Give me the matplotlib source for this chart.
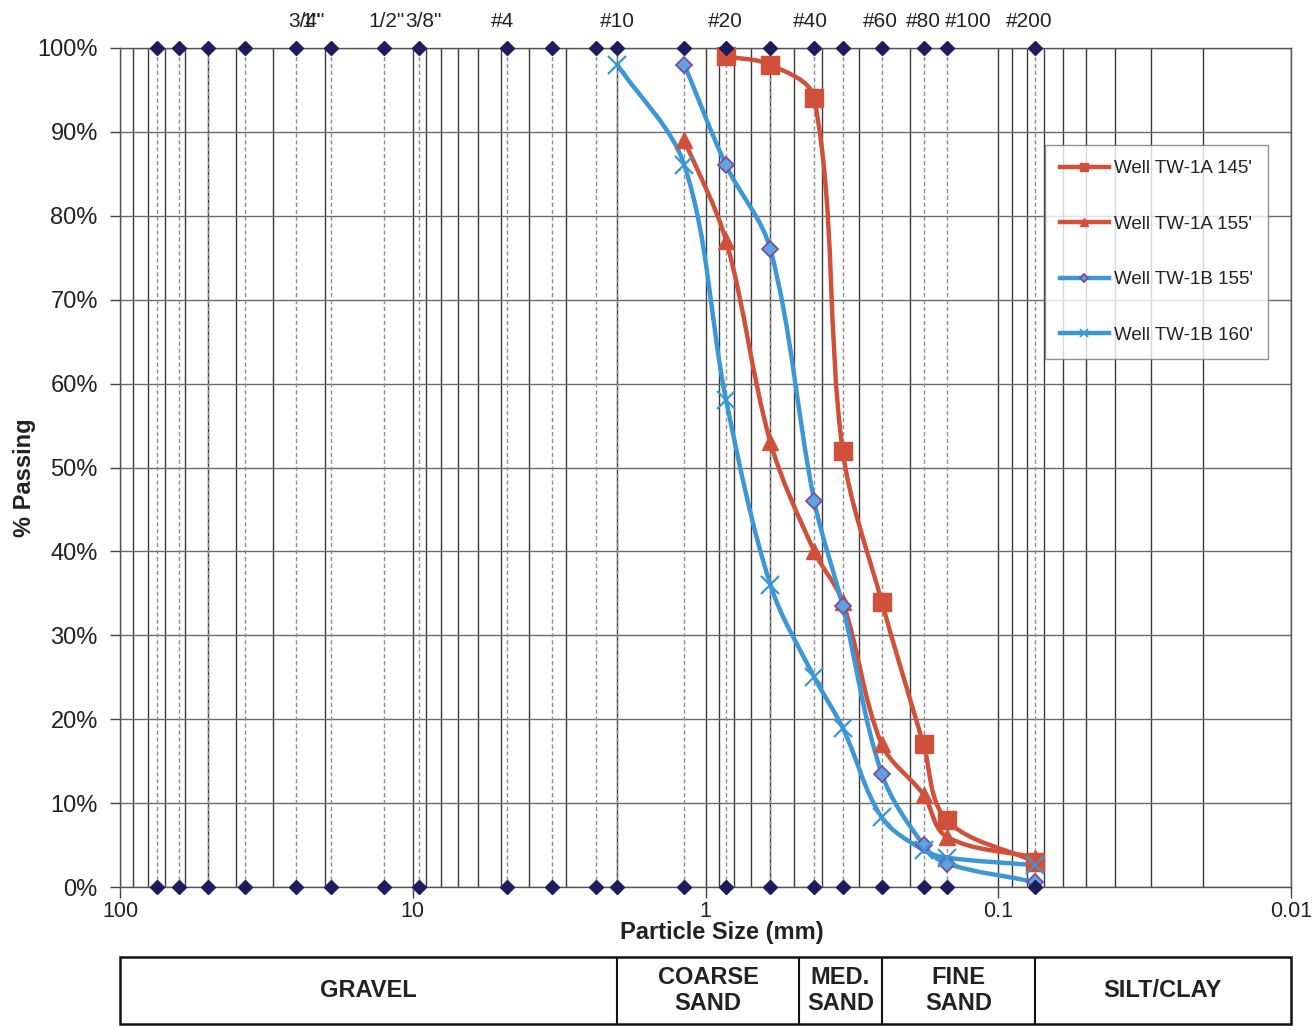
import numpy as np
import matplotlib
matplotlib.use("Agg")
import matplotlib.pyplot as plt
from matplotlib.path import Path
from matplotlib.patches import PathPatch, Rectangle
from matplotlib.lines import Line2D
from matplotlib import font_manager
from matplotlib.ticker import LogLocator, FixedLocator, NullFormatter, FuncFormatter

# ---------------- data ----------------
sieve_sizes = [75, 63, 50, 37.5, 25, 19, 12.5, 9.5, 4.75, 3.35, 2.36, 2.0,
               1.18, 0.85, 0.6, 0.425, 0.34, 0.25, 0.18, 0.15, 0.075]

top_labels = ['3/4"', '1"', '1/2"', '3/8"', '#4', '#10', '#20', '#40', '#60', '#80', '#100', '#200']
top_label_sizes = [19, 25, 12.5, 9.5, 4.75, 2.0, 0.85, 0.425, 0.25, 0.18, 0.15, 0.075]

s1_name = "Well TW-1A 145'"
s1_x = [0.85, 0.6, 0.425, 0.34, 0.25, 0.18, 0.15, 0.075]
s1_y = [99, 98, 94, 52, 34, 17, 8, 3]

s2_name = "Well TW-1A 155'"
s2_x = [1.18, 0.85, 0.6, 0.425, 0.34, 0.25, 0.18, 0.15, 0.075]
s2_y = [89, 77, 53, 40, 34, 17, 11, 6, 3.5]

s3_name = "Well TW-1B 155'"
s3_x = [1.18, 0.85, 0.6, 0.425, 0.34, 0.25, 0.18, 0.15, 0.075]
s3_y = [98, 86, 76, 46, 33.5, 13.5, 5, 2.8, 0.6]

s4_name = "Well TW-1B 160'"
s4_x = [2.0, 1.18, 0.85, 0.6, 0.425, 0.34, 0.25, 0.18, 0.15, 0.075]
s4_y = [98, 86, 58, 36, 25, 19, 8.3, 4.4, 3.5, 2.6]

zone_names = ["GRAVEL", "COARSE\nSAND", "MED.\nSAND", "FINE\nSAND", "SILT/CLAY"]
zone_bounds = [100, 2.0, 0.48, 0.25, 0.075, 0.01]

# ---------------- style ----------------
names = {f.name for f in font_manager.fontManager.ttflist}
base = 'Liberation Sans' if 'Liberation Sans' in names else 'DejaVu Sans'
narrow = 'Liberation Sans Narrow' if 'Liberation Sans Narrow' in names else base
plt.rcParams['font.family'] = [base, 'DejaVu Sans']

RED = '#D1503A'
BLUE = '#3B97D6'
NAVY = '#1C1C5E'

W, H = 1313, 1026
fig = plt.figure(figsize=(W / 100, H / 100), dpi=100)
L, R, T, B = 120, 1291, 48, 887
ax = fig.add_axes([L / W, 1 - B / H, (R - L) / W, (B - T) / H])
ax.set_xscale('log')
ax.set_xlim(100, 0.01)
ax.set_ylim(0, 100)

# grid
ax.xaxis.set_major_locator(LogLocator(base=10, numticks=10))
ax.xaxis.set_minor_locator(LogLocator(base=10, subs=np.arange(2, 10), numticks=20))
ax.xaxis.set_minor_formatter(NullFormatter())
ax.xaxis.set_major_formatter(FuncFormatter(lambda v, p: ('%g' % v)))
ax.yaxis.set_major_locator(FixedLocator(np.arange(0, 101, 10)))
ax.yaxis.set_major_formatter(FuncFormatter(lambda v, p: '%d%%' % v))
ax.grid(which='both', axis='x', color='#3a3a3a', lw=1.0, zorder=0)
ax.grid(which='major', axis='y', color='#6a6a6a', lw=1.0, zorder=0)
ax.set_axisbelow(True)
ax.tick_params(which='minor', length=0)
ax.tick_params(axis='x', which='major', length=8, width=1, color='#444', pad=2,
               labelsize=15.5, labelcolor='#222')
ax.tick_params(axis='y', which='major', length=7, width=1, color='#444', pad=9,
               labelsize=17, labelcolor='#222')
for sp in ax.spines.values():
    sp.set_color('#555')
    sp.set_linewidth(1.0)

# sieve lines + diamonds
for s in sieve_sizes:
    ax.axvline(s, color='#8c8c8c', lw=1.0, ls=(0, (3, 2)), zorder=1)
ax.plot(sieve_sizes, [0] * len(sieve_sizes), ls='none', marker='D', ms=7.5,
        color=NAVY, clip_on=False, zorder=6)
ax.plot(sieve_sizes, [100] * len(sieve_sizes), ls='none', marker='D', ms=7.5,
        color=NAVY, clip_on=False, zorder=6)

# top labels
label_dx = {'3/4"': -25, '1"': 15, '1/2"': 2, '3/8"': 4, '#4': -5, '#10': 0,
            '#20': -1, '#40': -4, '#60': -1, '#80': 0, '#100': 22, '#200': -6}
for lab, s in zip(top_labels, top_label_sizes):
    ax.annotate(lab, xy=(s, 100), xycoords='data',
                xytext=(label_dx[lab] * 0.72, 19), textcoords='offset points',
                ha='center', va='center', fontsize=15, color='#222',
                annotation_clip=False)


def smooth_path(xs, ys):
    # Bezier smoothing computed in display space, converted back to data space
    pts = ax.transData.transform(np.column_stack([xs, ys]))
    n = len(pts)
    tang = []
    for i in range(n):
        a = pts[max(i - 1, 0)]
        b = pts[min(i + 1, n - 1)]
        d = b - a
        tang.append(d / (np.hypot(*d) + 1e-9))
    verts = [pts[0]]
    codes = [Path.MOVETO]
    for i in range(n - 1):
        seg = np.hypot(*(pts[i + 1] - pts[i]))
        c1 = pts[i] + tang[i] * seg / 3.0
        c2 = pts[i + 1] - tang[i + 1] * seg / 3.0
        verts += [c1, c2, pts[i + 1]]
        codes += [Path.CURVE4] * 3
    verts = ax.transData.inverted().transform(np.array(verts))
    return Path(verts, codes)


series = [
    (s1_name, s1_x, s1_y, RED, dict(marker='s', ms=13, mfc=RED, mec=RED), dict(marker='s', ms=6)),
    (s2_name, s2_x, s2_y, RED, dict(marker='^', ms=12, mfc=RED, mec=RED), dict(marker='^', ms=6)),
    (s3_name, s3_x, s3_y, BLUE, dict(marker='D', ms=8.5, mfc='#5EA3E0', mec='#7A4E9E', mew=1.3),
     dict(marker='D', ms=4.5, mfc='#5EA3E0', mec='#7A4E9E')),
    (s4_name, s4_x, s4_y, BLUE, dict(marker='x', ms=13, mec=BLUE, mew=1.6), dict(marker='x', ms=6, mew=1.2)),
]

handles = []
for name, xs, ys, col, mk, lmk in series:
    pp = PathPatch(smooth_path(xs, ys), transform=ax.transData, fill=False,
                   edgecolor=col, lw=3.2, zorder=3, capstyle='round', joinstyle='round')
    ax.add_patch(pp)
    ax.plot(xs, ys, ls='none', zorder=4, clip_on=False, **mk)
    handles.append(Line2D([], [], color=col, lw=3.2, **{**{k: v for k, v in mk.items() if k not in ('marker', 'ms')}, **lmk}))

leg = ax.legend(handles, [s[0] for s in series], loc='upper left',
                bbox_to_anchor=((1045 - L) / (R - L), 1 - (145 - T) / (B - T)),
                fontsize=13.5, frameon=True, fancybox=False, borderpad=0.8,
                labelspacing=2.05, handlelength=2.6, handletextpad=0.3,
                borderaxespad=0)
leg.get_frame().set_edgecolor('#777')
leg.get_frame().set_linewidth(1.0)
leg.set_zorder(10)
for t in leg.get_texts():
    t.set_color('#222')

# axis labels
fig.text(722 / W, 1 - 933 / H, 'Particle Size (mm)', ha='center', va='center',
         fontsize=17, fontweight='bold', family=[narrow, 'DejaVu Sans'], color='#222')
fig.text(25 / W, 1 - 478 / H, '% Passing', ha='center', va='center', rotation=90,
         fontsize=17, fontweight='bold', family=[narrow, 'DejaVu Sans'], color='#222')

# classification table
tab = fig.add_axes([L / W, 1 - 1024 / H, (R - L) / W, (1024 - 957) / H])
tab.set_xscale('log')
tab.set_xlim(100, 0.01)
tab.set_ylim(0, 1)
tab.axis('off')
tab.add_patch(Rectangle((zone_bounds[0], 0), zone_bounds[-1] - zone_bounds[0], 1,
                        fill=False, ec='#111', lw=1.8, clip_on=False))
for b in zone_bounds[1:-1]:
    tab.plot([b, b], [0, 1], color='#111', lw=1.5)
for nm, a, b in zip(zone_names, zone_bounds[:-1], zone_bounds[1:]):
    tab.text(np.sqrt(a * b), 0.5, nm, ha='center', va='center', fontsize=17,
             fontweight='bold', family=[narrow, 'DejaVu Sans'], color='#222',
             linespacing=1.2)

fig.savefig('out.png', dpi=100)
